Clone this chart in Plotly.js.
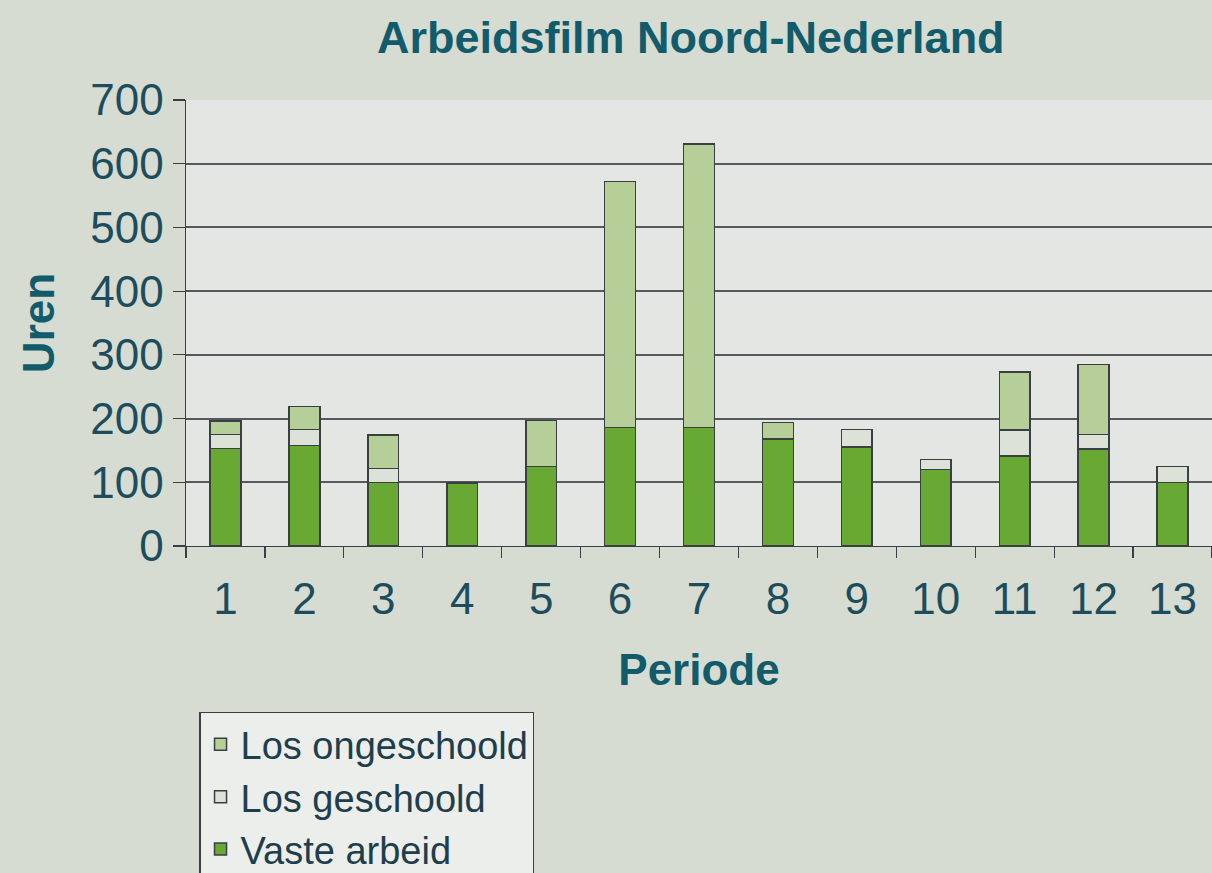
<!DOCTYPE html>
<html>
<head>
<meta charset="utf-8">
<script src="https://cdn.plot.ly/plotly-3.0.1.min.js"></script>
<style>html,body{margin:0;padding:0;background:#d6dcd2;}</style>
</head>
<body>
<div id="chart" style="width:1212px;height:873px;"></div>
<script>
const periods = ['1','2','3','4','5','6','7','8','9','10','11','12','13'];
const vasteArbeid = [153,158,100,99,125,186,186,168,155,120,141,152,100];
const losGeschoold = [22,25,22,0,0,0,0,0,28,16,41,23,25];
const losOngeschoold = [21,36,52,0,72,386,445,26,0,0,91,110,0];
const yTicks = [0,100,200,300,400,500,600,700];

const teal = '#125b6b';
const tickColor = '#1d4d5c';
const condensed = '"Liberation Sans Narrow", "Liberation Sans", Arial, sans-serif';
const lineStyle = {color:'#3a3f44', width:1.5};

const traces = [
  {type:'bar', name:'Vaste arbeid', x:periods, y:vasteArbeid,
   marker:{color:'#68a934', line:lineStyle}},
  {type:'bar', name:'Los geschoold', x:periods, y:losGeschoold,
   marker:{color:'#dde2d8', line:lineStyle}},
  {type:'bar', name:'Los ongeschoold', x:periods, y:losOngeschoold,
   marker:{color:'#b6cf98', line:lineStyle}}
];

const layout = {
  width:1212, height:873,
  paper_bgcolor:'#d6dcd2',
  plot_bgcolor:'#e4e6e3',
  margin:{l:186, r:0, t:100, b:327, autoexpand:false},
  barmode:'stack',
  bargap:0.61,
  showlegend:true,
  title:{text:'Arbeidsfilm Noord-Nederland', x:0.57, xanchor:'center', y:0.957, yanchor:'middle',
         font:{family:condensed, size:45, color:teal, weight:'bold'}},
  xaxis:{type:'category', tickson:'boundaries', ticks:'outside', ticklen:11, tickcolor:'#3a3f44', tickwidth:1.2,
         showline:true, linecolor:'#3a3f44', linewidth:1.2, showgrid:false, ticklabelstandoff:14, automargin:false,
         tickfont:{family:condensed, size:44, color:tickColor},
         title:{text:'Periode', standoff:32, font:{family:condensed, size:44, color:teal, weight:'bold'}}},
  yaxis:{range:[0,700], tickvals:yTicks, ticktext:yTicks.map(String), ticks:'outside', ticklen:12, automargin:false,
         tickcolor:'#3a3f44', tickwidth:1.2, showline:true, linecolor:'#3a3f44', linewidth:1.5,
         gridcolor:'#55595d', gridwidth:2, zeroline:false,
         tickfont:{family:condensed, size:44, color:tickColor},
         title:{text:'Uren', standoff:22, font:{family:condensed, size:44, color:teal, weight:'bold'}}},
  legend:{x:0.013, y:-0.372, xanchor:'left', yanchor:'top', traceorder:'reversed',
          bgcolor:'#eceeeb', bordercolor:'#3a3f44', borderwidth:1.2,
          font:{family:condensed, size:38, color:'#1f3e4c'}, itemwidth:30, tracegroupgap:0}
};

Plotly.newPlot('chart', traces, layout, {displayModeBar:false, staticPlot:true});
</script>
</body>
</html>
